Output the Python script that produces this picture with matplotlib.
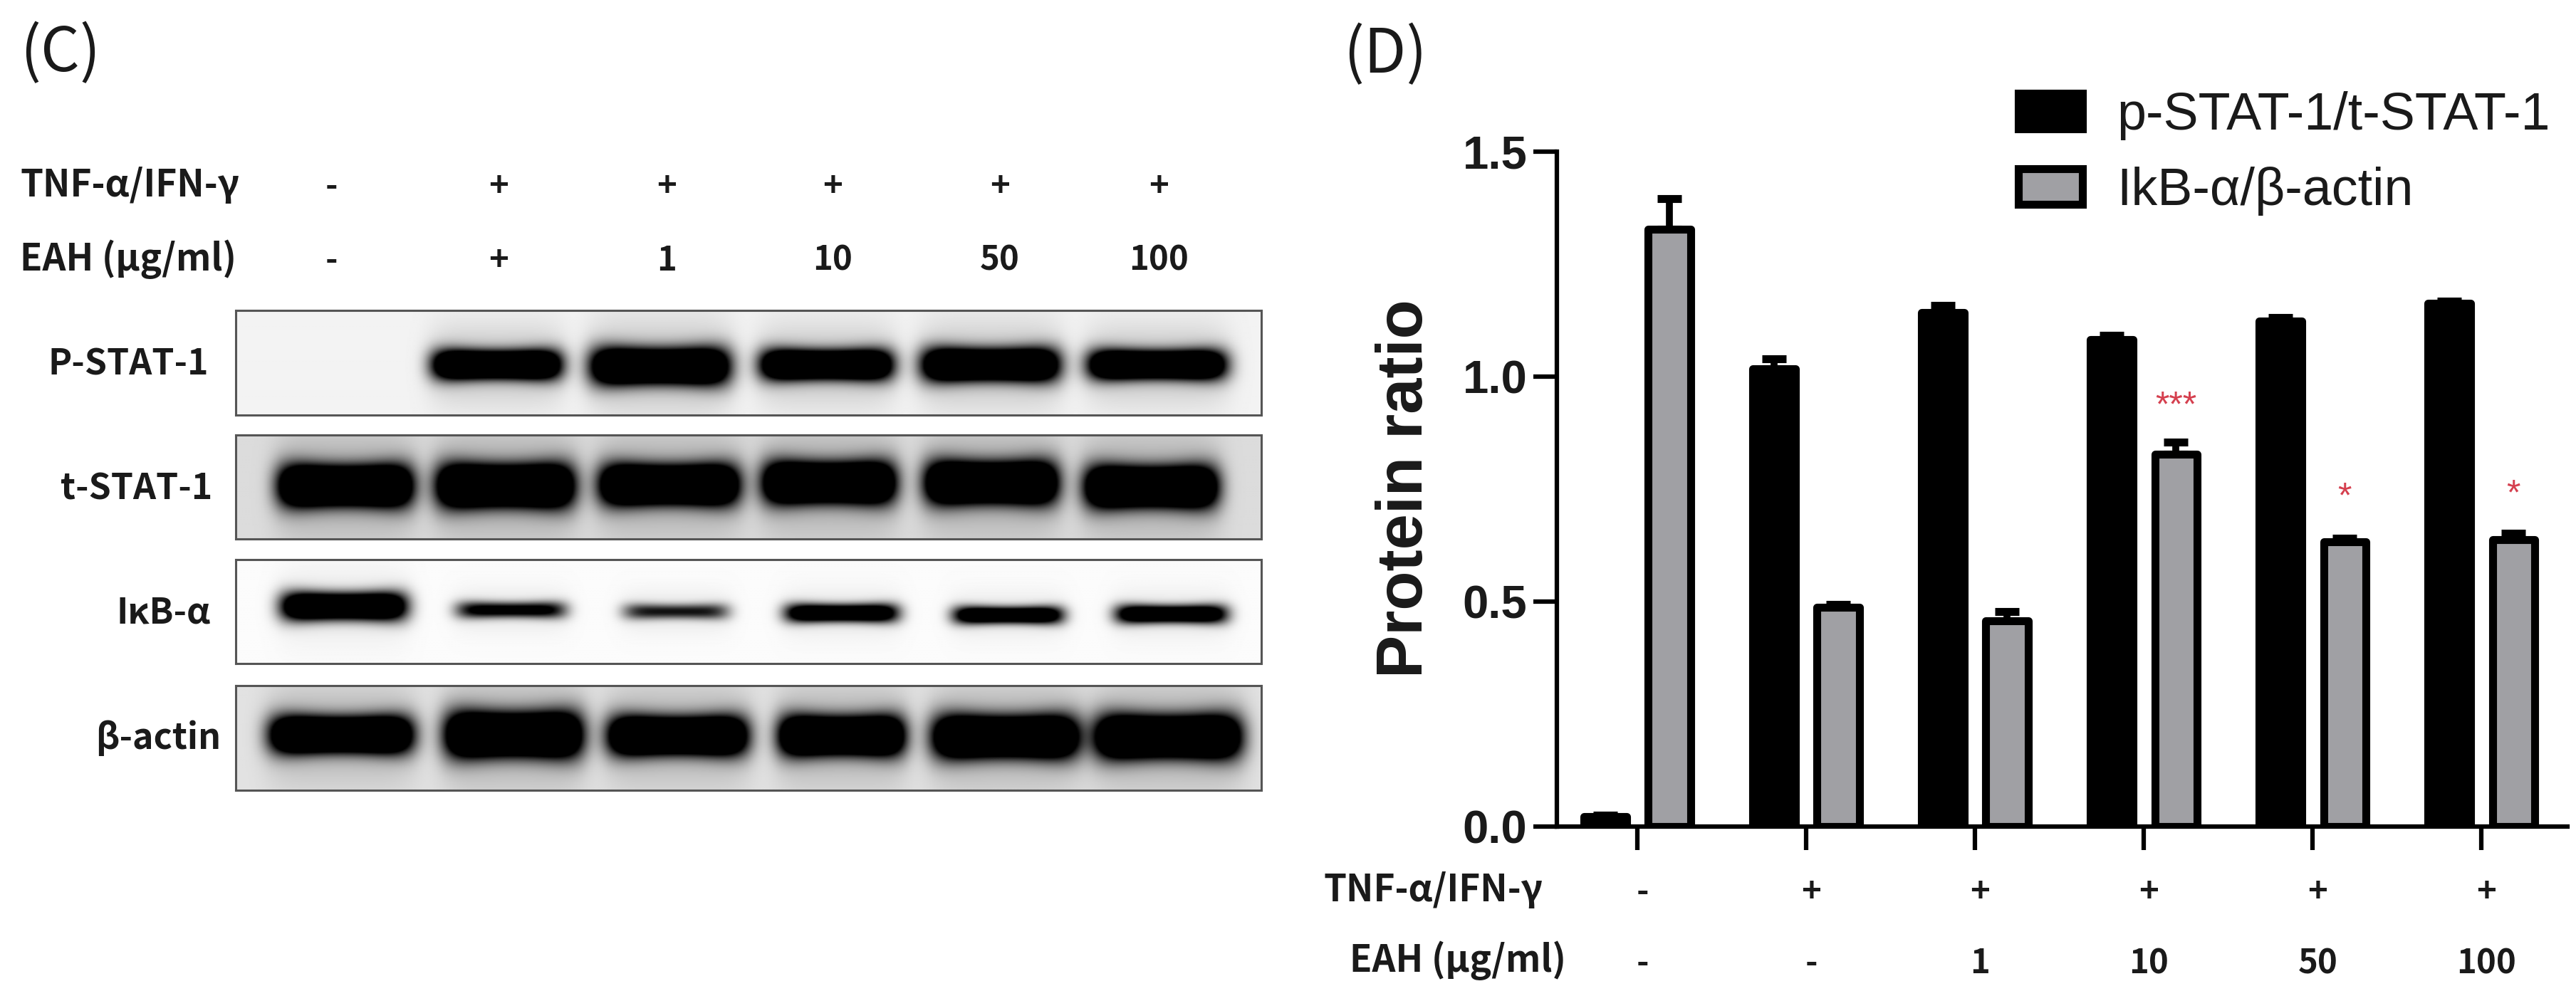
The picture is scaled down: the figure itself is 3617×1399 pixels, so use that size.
import numpy as np
import matplotlib
matplotlib.use("Agg")
import matplotlib.pyplot as plt

W, H = 3617, 1399
CJK = ['Noto Sans CJK KR', 'DejaVu Sans']
SANS = ['Liberation Sans', 'DejaVu Sans']
INK = '#1a1a1a'

# --- chart data (panel D)
groups = [0, 1, 2, 3, 4, 5]
pstat_ratio = [0.022, 1.018, 1.143, 1.083, 1.123, 1.163]
pstat_err = [0.004, 0.022, 0.016, 0.008, 0.008, 0.004]
ikb_ratio = [1.327, 0.488, 0.458, 0.828, 0.633, 0.638]
ikb_err = [0.068, 0.006, 0.020, 0.026, 0.008, 0.014]
series_labels = ['p-STAT-1/t-STAT-1', 'IkB-α/β-actin']
yticks = [0.0, 0.5, 1.0, 1.5]
ytick_labels = ['0.0', '0.5', '1.0', '1.5']
tnf_row = ['-', '+', '+', '+', '+', '+']
eah_row_d = ['-', '-', '1', '10', '50', '100']
stars = [(3, 0.933, '***'), (4, 0.730, '*'), (5, 0.737, '*')]

# --- blot panel data (panel C)
eah_row_c = ['-', '+', '1', '10', '50', '100']
lane_label_x = [465, 700, 936, 1169, 1404, 1627]
blot_names = ['P-STAT-1', 't-STAT-1', 'IκB-α', 'β-actin']
blot_name_right = [293, 298, 296, 310]
blot_name_y = [512, 687, 861, 1037]
blot_boxes = [(436, 583), (611, 757), (786, 932), (963, 1110)]
blot_bg = [0.95, 0.86, 0.985, 0.885]
blot_halo = [0.20, 0.20, 0.08, 0.20]
pstat_bands = dict(c=[590, 784, 982, 1177, 1375], w=[152, 164, 156, 162, 162],
                   y=[104, 107, 104, 104, 104], h=[62, 78, 64, 70, 62], s=[1, 1, 1, 1, 1])
tstat_bands = dict(c=[410, 600, 795, 985, 1178, 1368], w=[158, 162, 164, 156, 156, 156],
                   y=[98, 98, 96, 92, 92, 100], h=[88, 92, 86, 88, 90, 88], s=[1, 1, 1, 1, 1, 1])
ikb_bands = dict(c=[408, 607, 803, 1000, 1198, 1392], w=[148, 130, 125, 134, 130, 132],
                 y=[90, 97, 100, 103, 107, 105], h=[60, 36, 34, 40, 38, 40], s=[1.0, .55, .42, .8, .8, .8])
actin_bands = dict(c=[405, 610, 805, 1000, 1195, 1388], w=[168, 162, 164, 148, 172, 172],
                   y=[94, 94, 96, 96, 98, 98], h=[78, 96, 82, 84, 90, 92], s=[1, 1, 1, 1, 1, 1])
all_bands = [pstat_bands, tstat_bands, ikb_bands, actin_bands]

fig = plt.figure(figsize=(W / 100, H / 100), dpi=100, facecolor='white')


def ftext(x, y, s, **kw):
    kw.setdefault('va', 'center')
    return fig.text(x / W, 1 - y / H, s, **kw)


def add_px_axes(l, t, r, b):
    return fig.add_axes([l / W, 1 - b / H, (r - l) / W, (b - t) / H])


# ------------- Panel C
ftext(28, 76, '(C)', family=CJK, fontsize=62, color=INK)
ftext(28, 260, 'TNF-α/IFN-γ', family=CJK, fontsize=37, weight='bold', color=INK)
ftext(28, 364, 'EAH (μg/ml)', family=CJK, fontsize=37, weight='bold', color=INK)
for x, a, b in zip(lane_label_x, tnf_row, eah_row_c):
    ftext(x, 262, a, family=CJK, fontsize=34, weight='bold', ha='center', color=INK)
    ftext(x, 366, b, family=CJK, fontsize=34, weight='bold', ha='center', color=INK)

xs = np.linspace(280, 1498, 720)
ys = np.linspace(0, 200, 150)
X, Y = np.meshgrid(xs, ys)
for i, (top, bot) in enumerate(blot_boxes):
    ax = add_px_axes(331, top, 1771, bot)
    bands = all_bands[i]
    dens = np.zeros_like(X)
    halo = np.zeros_like(X)
    for c, w, y0, h, s in zip(bands['c'], bands['w'], bands['y'], bands['h'], bands['s']):
        u = (X - c) / (w / 2)
        hh = h * (0.82 + 0.18 * np.minimum(u ** 2, 1))
        v = (Y - y0) / (hh / 2)
        r = np.abs(u) ** 6 + np.abs(v) ** 2.2
        dens += s * 2.0 * np.exp(-r)
        halo += np.exp(-np.abs(u * 0.95) ** 6) * np.exp(-((Y - y0) / (h * 1.15)) ** 2)
    img = np.clip(blot_bg[i] - blot_halo[i] * np.minimum(halo, 1) - dens, 0, 1)
    ax.imshow(img, cmap='gray', vmin=0, vmax=1, aspect='auto', extent=(280, 1498, 200, 0),
              interpolation='bilinear')
    ax.set_xticks([])
    ax.set_yticks([])
    for sp in ax.spines.values():
        sp.set_linewidth(2.2)
        sp.set_color('#555555')
    ftext(blot_name_right[i], blot_name_y[i], blot_names[i], family=CJK, fontsize=36,
          weight='bold', ha='right', color=INK)

# ------------- Panel D
ftext(1886, 78, '(D)', family=CJK, fontsize=62, color=INK)
ax = add_px_axes(2186, 213, 3605, 1161)
g = np.array(groups, dtype=float)
off, bw = 0.19, 0.25
common = dict(width=bw, edgecolor='black', linewidth=8, joinstyle='round', zorder=3)
ekw = dict(ecolor='black', elinewidth=7, capthick=8, zorder=2)
b1 = ax.bar(g - off, pstat_ratio, color='black', label=series_labels[0], **common)
b2 = ax.bar(g + off, ikb_ratio, color='#a0a0a4', label=series_labels[1], **common)
ax.errorbar(g - off, pstat_ratio, yerr=[[0] * 6, pstat_err], fmt='none', capsize=12, **ekw)
ax.errorbar(g + off, ikb_ratio, yerr=[[0] * 6, ikb_err], fmt='none', capsize=12, **ekw)
ax.set_xlim(-0.477, 5.51)
ax.set_ylim(0, 1.5)
ax.set_yticks(yticks, ytick_labels)
ax.set_xticks(groups, [''] * 6)
ax.tick_params(axis='both', length=24, width=4.5, color='black')
ax.tick_params(axis='y', pad=6)
for lab in ax.get_yticklabels():
    lab.set_family(SANS)
    lab.set_fontsize(47)
    lab.set_fontweight('bold')
    lab.set_color(INK)
for s in ['top', 'right']:
    ax.spines[s].set_visible(False)
for s in ['left', 'bottom']:
    ax.spines[s].set_linewidth(4.5)
ftext(1974, 686, 'Protein ratio', family=SANS, fontsize=65, weight='bold', rotation=90,
      ha='center', color=INK)

for x, y, s in stars:
    ax.text(x + off, y, s, family=SANS, fontsize=36, color='#d5404f', ha='center', va='center')

trans = matplotlib.transforms.blended_transform_factory(ax.transData, fig.transFigure)
for gi, a, b in zip(groups, tnf_row, eah_row_d):
    ax.text(gi + 0.03, 1 - 1253 / H, a, transform=trans, family=CJK, fontsize=34, weight='bold',
            ha='center', va='center', color=INK, clip_on=False)
    ax.text(gi + 0.03, 1 - 1353 / H, b, transform=trans, family=CJK, fontsize=34, weight='bold',
            ha='center', va='center', color=INK, clip_on=False)
ftext(1858, 1250, 'TNF-α/IFN-γ', family=CJK, fontsize=37, weight='bold', color=INK)
ftext(1895, 1349, 'EAH (μg/ml)', family=CJK, fontsize=37, weight='bold', color=INK)

leg = fig.legend(handles=[b1, b2], labels=series_labels, loc='upper left',
                 bbox_to_anchor=(2834 / W, 1 - 128 / H), frameon=False, borderpad=0, borderaxespad=0,
                 handlelength=1.22, handleheight=0.665, handletextpad=0.66, labelspacing=0.5,
                 prop={'family': SANS, 'size': 53}, labelcolor=INK)

fig.savefig('out.png', dpi=100, facecolor='white')
